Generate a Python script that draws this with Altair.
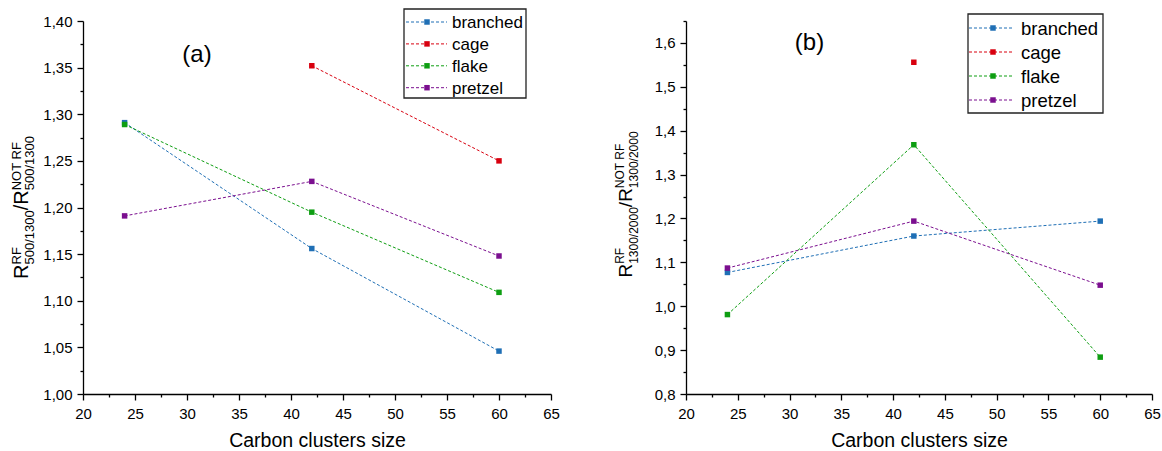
import altair as alt
import pandas as pd

FONT = "Liberation Sans"

# ---- data ----
x_sizes = [24, 42, 60]
series = ["branched", "cage", "flake", "pretzel"]
colors = ["#1f6fb5", "#d8000f", "#0e9e12", "#7b0f8f"]

a_branched = [1.291, 1.156, 1.046]
a_cage = [None, 1.352, 1.250]
a_flake = [1.289, 1.195, 1.109]
a_pretzel = [1.191, 1.228, 1.148]

b_branched = [1.077, 1.160, 1.194]
b_cage = [None, 1.556, None]
b_flake = [0.981, 1.368, 0.884]
b_pretzel = [1.087, 1.194, 1.048]

x_ticks = [20 + 2.5 * i for i in range(19)]
ya_ticks = [round(1.0 + 0.025 * i, 3) for i in range(17)]
yb_ticks = [round(0.8 + 0.05 * i, 3) for i in range(18)]


def long_df(cols):
    rows = []
    for name, vals in zip(series, cols):
        for x, v in zip(x_sizes, vals):
            if v is not None:
                rows.append({"size": x, "value": v, "series": name})
    return pd.DataFrame(rows)


df_a = long_df([a_branched, a_cage, a_flake, a_pretzel])
df_b = long_df([b_branched, b_cage, b_flake, b_pretzel])
legend_df = pd.DataFrame({"series": series})

cscale = alt.Scale(domain=series, range=colors)

W_A, W_B, H = 468, 466, 373
PAD_L, PAD_T = 83, 21
TOTAL_W, TOTAL_H = 1162, 451

CW = {"R": 0.722, "F": 0.611, "N": 0.722, "O": 0.778, "T": 0.611, " ": 0.278, "/": 0.278}


def tw(s, fs):
    return sum(CW.get(c, 0.556) for c in s) * fs


def one():
    return alt.Data(values=[{"k": 1}])


def txt(s, x, y, fs, angle=270, align="left", baseline="alphabetic"):
    return alt.Chart(one()).mark_text(
        text=s, font=FONT, fontSize=fs, angle=angle, align=align,
        baseline=baseline, color="black"
    ).encode(x=alt.value(x), y=alt.value(y))


def anchor(x, y):
    # 1px white pixel that pins the page's corners
    return alt.Chart(one()).mark_rect(fill="white", strokeWidth=0).encode(
        x=alt.value(x), x2=alt.value(x + 1), y=alt.value(y), y2=alt.value(y + 1))


def ytitle(sub, rs, ss, base_x, center_y, sup_dx, sub_dx):
    wR = tw("R", rs)
    wsub = tw(sub, ss)
    wsl = tw("/R", rs)
    total = wR + wsub + wsl + wsub
    y0 = center_y + total / 2
    y1 = y0 - wR
    y2 = y1 - wsub
    y3 = y2 - wsl
    return [
        txt("R", base_x, y0, rs),
        txt("RF", base_x + sup_dx, y1, ss),
        txt(sub, base_x + sub_dx, y1, ss),
        txt("/R", base_x, y2, rs),
        txt("NOT RF", base_x + sup_dx, y3, ss),
        txt(sub, base_x + sub_dx, y3, ss),
    ]


def legend_layers(box, y_first, dy, lx0, lx1, sx, tx, fs):
    bx0, bx1, by0, by1 = box
    layers = [
        alt.Chart(one()).mark_rect(fill="white", stroke="#222222", strokeWidth=1.3).encode(
            x=alt.value(bx0), x2=alt.value(bx1), y=alt.value(by0), y2=alt.value(by1))
    ]
    for i, name in enumerate(series):
        yy = y_first + i * dy
        base = alt.Chart(legend_df).transform_filter(alt.datum.series == name)
        layers.append(base.mark_rule(strokeDash=[3, 2], strokeWidth=1).encode(
            x=alt.value(lx0), x2=alt.value(lx1), y=alt.value(yy),
            color=alt.Color("series:N", scale=cscale, legend=None)))
        layers.append(base.mark_point(shape="square", filled=True, size=30, opacity=1).encode(
            x=alt.value(sx), y=alt.value(yy),
            color=alt.Color("series:N", scale=cscale, legend=None)))
        layers.append(base.mark_text(align="left", baseline="middle", font=FONT,
                                     fontSize=fs, color="black").encode(
            x=alt.value(tx), y=alt.value(yy + 1), text="series:N"))
    return layers


def panel(df, ydom, yticks, ymult, yfmt):
    xaxis = alt.Axis(
        values=x_ticks, title="Carbon clusters size",
        labelExpr="round(datum.value*2) % 10 == 0 ? datum.label : ''",
        tickSize={"condition": {"test": "round(datum.value*2) % 10 != 0", "value": 3}, "value": 6},
        labelFlush=False, labelOverlap=False, labelPadding=6,
        titleY=52, titleBaseline="alphabetic",
    )
    yaxis = alt.Axis(
        values=yticks, title=None,
        labelExpr=f"round(datum.value*{ymult}) % 2 == 0 ? replace(format(datum.value, '{yfmt}'), '.', ',') : ''",
        tickSize={"condition": {"test": f"round(datum.value*{ymult}) % 2 != 0", "value": 3}, "value": 6},
        labelFlush=False, labelOverlap=False, labelPadding=5,
    )
    enc = dict(
        x=alt.X("size:Q", scale=alt.Scale(domain=[20, 65], nice=False, zero=False), axis=xaxis),
        y=alt.Y("value:Q", scale=alt.Scale(domain=ydom, nice=False, zero=False), axis=yaxis),
        color=alt.Color("series:N", scale=cscale, legend=None),
    )
    line = alt.Chart(df).mark_line(strokeDash=[3, 2], strokeWidth=1).encode(**enc)
    pts = alt.Chart(df).mark_point(shape="square", filled=True, size=30, opacity=1).encode(**enc)
    return [line, pts]


SPACING = 135
left_layers = [anchor(-PAD_L, -PAD_T)]
left_layers += panel(df_a, [1.0, 1.4], ya_ticks, 40, ".2f")
left_layers += ytitle("500/1300", 20, 13, -55, H / 2, -7, 6)
left_layers += legend_layers((321, 443, -12, 77), 1, 21.9, 323, 364, 344, 369, 17)
left_layers.append(txt("(a)", 114, 34, 24, angle=0, align="center", baseline="middle"))
left = alt.layer(*left_layers).properties(width=W_A, height=H)

right_x0 = PAD_L + W_A + SPACING
right_layers = [anchor(TOTAL_W - right_x0 - 1, TOTAL_H - PAD_T - 1)]
right_layers += panel(df_b, [0.8, 1.65], yb_ticks, 20, ".1f")
right_layers += ytitle("1300/2000", 19, 12, -54, H / 2 - 3, -8, 6)
right_layers += legend_layers((282, 417, -7, 92), 7, 24, 283, 327, 307, 335, 18.5)
right_layers.append(txt("(b)", 123.5, 22, 24, angle=0, align="center", baseline="middle"))
right = alt.layer(*right_layers).properties(width=W_B, height=H)

chart = alt.hconcat(left, right, spacing=SPACING, bounds="flush").properties(
    padding=0,
).configure_view(stroke=None).configure_axis(
    domainColor="black", tickColor="black", labelColor="black",
    labelFont=FONT, labelFontSize=15, titleFont=FONT, titleFontSize=19.5,
    titleFontWeight="normal", titleColor="black", grid=False,
    domainWidth=1.3, tickWidth=1.3,
)

chart.save("out.html", embed_options={"renderer": "svg", "actions": False})
